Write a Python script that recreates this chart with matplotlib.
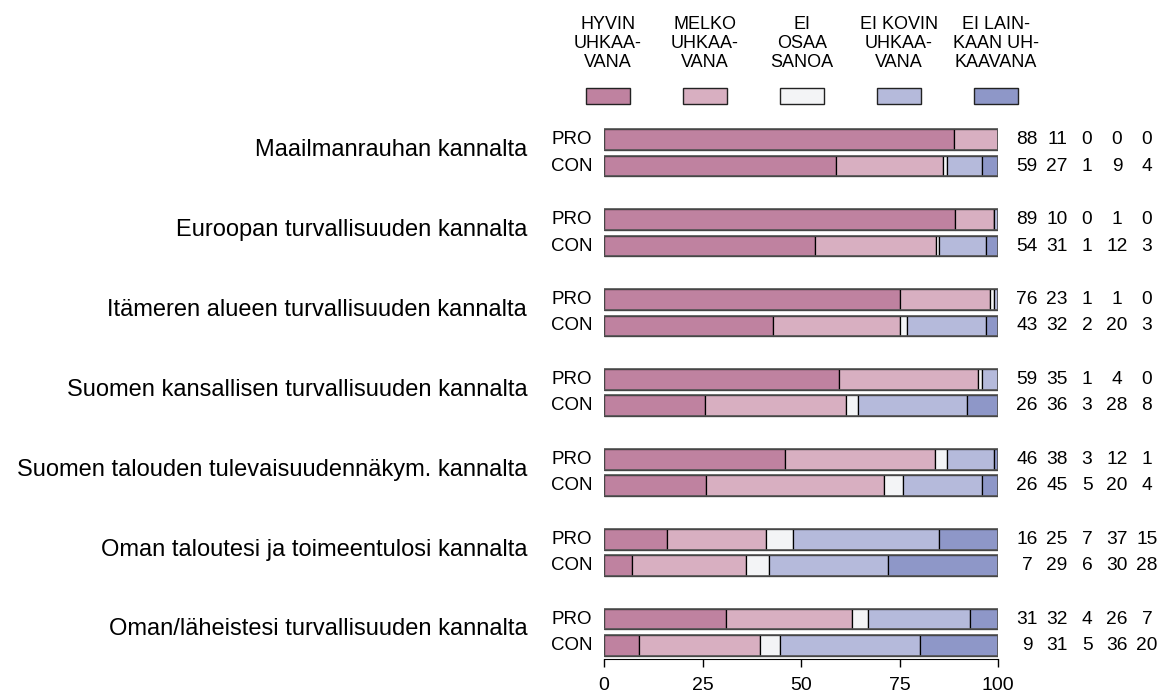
import numpy as np
import matplotlib
matplotlib.use('Agg')
import matplotlib.pyplot as plt

plt.rcParams['font.family'] = ['Liberation Sans', 'DejaVu Sans']

# questions (one group of PRO / CON bars each)
questions = [
    'Maailmanrauhan kannalta',
    'Euroopan turvallisuuden kannalta',
    'Itämeren alueen turvallisuuden kannalta',
    'Suomen kansallisen turvallisuuden kannalta',
    'Suomen talouden tulevaisuudennäkym. kannalta',
    'Oman taloutesi ja toimeentulosi kannalta',
    'Oman/läheistesi turvallisuuden kannalta',
]
groups = ['PRO', 'CON']
categories = ['HYVIN\nUHKAA-\nVANA', 'MELKO\nUHKAA-\nVANA', 'EI\nOSAA\nSANOA',
              'EI KOVIN\nUHKAA-\nVANA', 'EI LAIN-\nKAAN UH-\nKAAVANA']

# percentages, rows: questions, cols: categories
pro_values = np.array([
    [88, 11, 0, 0, 0],
    [89, 10, 0, 1, 0],
    [76, 23, 1, 1, 0],
    [59, 35, 1, 4, 0],
    [46, 38, 3, 12, 1],
    [16, 25, 7, 37, 15],
    [31, 32, 4, 26, 7],
])
con_values = np.array([
    [59, 27, 1, 9, 4],
    [54, 31, 1, 12, 3],
    [43, 32, 2, 20, 3],
    [26, 36, 3, 28, 8],
    [26, 45, 5, 20, 4],
    [7, 29, 6, 30, 28],
    [9, 31, 5, 36, 20],
])

colors = ['#bf82a0', '#d8afc1', '#f3f4f6', '#b5badb', '#8e97c8']

fig = plt.figure(figsize=(11.65, 6.93), dpi=100)
# axes spans 0..100 horizontally, pixel rows 125..659 vertically
ax = fig.add_axes([604 / 1165, (693 - 659) / 693, 394 / 1165, 534 / 693])

bar_h = 0.259
con_offset = 0.331
ax.set_xlim(0, 100)
ax.set_ylim(6.5, -0.184)

for i, q in enumerate(questions):
    for j, (g, vals) in enumerate(zip(groups, [pro_values[i], con_values[i]])):
        y = i + j * con_offset
        widths = vals / vals.sum() * 100
        lefts = np.concatenate([[0], np.cumsum(widths)[:-1]])
        ax.barh(y, widths, left=lefts, height=bar_h, color=colors,
                edgecolor='black', linewidth=0.9)
        # outer frame of the bar
        ax.barh(y, 100, height=bar_h, color='none', edgecolor='#555555',
                linewidth=1.2)
        ax.text(-3.0, y, g, ha='right', va='center', fontsize=13.5)
        for k, v in enumerate(vals):
            ax.text(107.4 + 7.6 * k, y, str(v), ha='center', va='center',
                    fontsize=13.8, clip_on=False)
    ax.text(-19.5, i + 0.13, q, ha='right', va='center', fontsize=17)

# legend on top
for k, (c, lab) in enumerate(zip(colors, categories)):
    x = 1.0 + 24.6 * k
    ax.add_patch(plt.Rectangle((x - 5.6, -0.647), 11.2, 0.2, facecolor=c,
                               edgecolor='#222222', linewidth=1.0,
                               clip_on=False))
    ax.text(x, -0.905, lab, ha='center', va='baseline', fontsize=13,
            linespacing=1.15, multialignment='center')

for s in ['top', 'right', 'left']:
    ax.spines[s].set_visible(False)
ax.spines['bottom'].set_bounds(0, 100)
ax.set_yticks([])
ax.set_xticks([0, 25, 50, 75, 100])
ax.tick_params(axis='x', length=6, width=1, labelsize=14, pad=7)

fig.savefig('out.png', dpi=100)
